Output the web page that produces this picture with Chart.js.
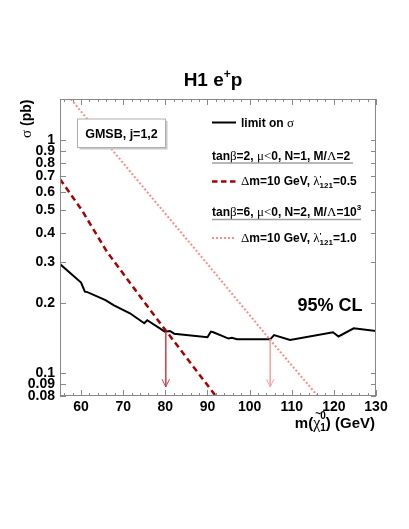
<!DOCTYPE html>
<html>
<head>
<meta charset="utf-8">
<script src="https://cdn.jsdelivr.net/npm/chart.js@4/dist/chart.umd.min.js"></script>
<style>
  html, body { margin: 0; padding: 0; background: #fff; }
  canvas { display: block; }
</style>
</head>
<body>
<canvas id="plot" width="409" height="529"></canvas>
<script>
// x axis: neutralino mass (GeV), y axis: cross section (pb)
const xTicks = [60, 70, 80, 90, 100, 110, 120, 130];
const yTicks = [0.08, 0.09, 0.1, 0.2, 0.3, 0.4, 0.5, 0.6, 0.7, 0.8, 0.9, 1];

// observed 95% CL limit on sigma
const limitMass = [55, 60.0, 60.9, 61.5, 65.8, 67.7, 71.6, 75.0, 75.7, 79.9, 81.1, 82.1, 90.0, 90.8, 91.4, 95.0, 95.8, 97.0, 104.9, 105.8, 109.6, 119.8, 121.1, 124.7, 130];
const limitSigma = [0.294, 0.245, 0.224, 0.223, 0.206, 0.196, 0.181, 0.164, 0.169, 0.151, 0.152, 0.148, 0.143, 0.151, 0.150, 0.141, 0.142, 0.140, 0.140, 0.146, 0.139, 0.150, 0.144, 0.156, 0.152];

// tanb=2, lambda'121=0.5 prediction
const modelAMass = [55, 60.15, 66.1, 76.4, 91.8];
const modelASigma = [0.68, 0.502, 0.333, 0.187, 0.0807];

// tanb=6, lambda'121=1.0 prediction
const modelBMass = [57.6, 67.7, 77.6, 87.9, 104.9, 116.0];
const modelBSigma = [1.5, 0.894, 0.545, 0.327, 0.139, 0.0807];

// excluded mass arrows
const arrowAMass = [80.1, 80.1];
const arrowASigma = [0.152, 0.0876];
const arrowAHeadMass = [79.2, 80.1, 81.0];
const arrowAHeadSigma = [0.0945, 0.0876, 0.0945];
const arrowBMass = [104.9, 104.9];
const arrowBSigma = [0.140, 0.0876];
const arrowBHeadMass = [104.0, 104.9, 105.8];
const arrowBHeadSigma = [0.0945, 0.0876, 0.0945];

const sans = '"Liberation Sans", Arial, sans-serif';
const serif = '"Liberation Serif", "DejaVu Serif", serif';
const darkRed = '#a80000';
const pink = '#ff8a8a';

function points(xs, ys) {
    return xs.map((x, i) => ({ x: x, y: ys[i] }));
}

function lineSet(xs, ys, color, width, dash) {
    return {
        data: points(xs, ys),
        borderColor: color,
        borderWidth: width,
        borderDash: dash || [],
        pointRadius: 0,
        tension: 0,
        fill: false
    };
}

function drawRuns(ctx, x, y, runs, align) {
    let total = 0;
    runs.forEach((r) => {
        ctx.font = r.font;
        r.w = ctx.measureText(r.text).width;
        if (!r.stack) total += r.w;
    });
    let cx = align === 'right' ? x - total : align === 'center' ? x - total / 2 : x;
    ctx.textAlign = 'left';
    ctx.textBaseline = 'alphabetic';
    runs.forEach((r) => {
        ctx.font = r.font;
        ctx.fillText(r.text, cx + (r.dx || 0), y + (r.dy || 0));
        if (!r.stack) cx += r.w;
    });
}

const B12 = 'bold 12px ' + sans;
const G13 = '13px ' + serif;
const S8 = 'bold 8px ' + sans;

const decor = {
    id: 'decor',
    afterDraw(chart) {
        const ctx = chart.ctx;
        const area = chart.chartArea;
        const xs = chart.scales.x;
        const ys = chart.scales.y;
        ctx.save();

        // frame
        ctx.strokeStyle = '#888';
        ctx.lineWidth = 1;
        ctx.strokeRect(area.left + 0.5, area.top + 0.5, area.right - area.left - 1, area.bottom - area.top - 1);

        // inward ticks on all sides
        ctx.beginPath();
        for (let v = 56; v <= 130; v += 2) {
            const px = Math.round(xs.getPixelForValue(v)) + 0.5;
            const len = v % 10 === 0 ? 6 : 3;
            ctx.moveTo(px, area.bottom);
            ctx.lineTo(px, area.bottom - len);
            ctx.moveTo(px, area.top);
            ctx.lineTo(px, area.top + len);
        }
        yTicks.forEach((v) => {
            const py = Math.round(ys.getPixelForValue(v)) + 0.5;
            ctx.moveTo(area.left, py);
            ctx.lineTo(area.left + 6, py);
            ctx.moveTo(area.right, py);
            ctx.lineTo(area.right - 5, py);
        });
        ctx.stroke();

        ctx.fillStyle = '#000';

        // title
        drawRuns(ctx, 213, 86, [
            { text: 'H1 e', font: 'bold 19px ' + sans },
            { text: '+', font: 'bold 12px ' + sans, dy: -8 },
            { text: 'p', font: 'bold 19px ' + sans }
        ], 'center');

        // y title
        ctx.save();
        ctx.translate(31, 99.5);
        ctx.rotate(-Math.PI / 2);
        drawRuns(ctx, 0, 0, [
            { text: 'σ', font: '15px ' + serif },
            { text: ' (pb)', font: 'bold 14px ' + sans }
        ], 'right');
        ctx.restore();

        // x title
        drawRuns(ctx, 375, 428, [
            { text: 'm(', font: 'bold 15px ' + sans },
            { text: '~', font: 'bold 10px ' + sans, dx: 2, dy: -11, stack: true },
            { text: 'χ', font: '16px ' + serif },
            { text: '0', font: 'bold 10px ' + sans, dy: -9, stack: true },
            { text: '1', font: 'bold 10px ' + sans, dy: 3 },
            { text: ') (GeV)', font: 'bold 15px ' + sans }
        ], 'right');

        // GMSB box
        ctx.fillStyle = '#c8c8c8';
        ctx.fillRect(79.5, 121, 88, 28.5);
        ctx.fillStyle = '#fff';
        ctx.fillRect(77.5, 119, 88, 28.5);
        ctx.strokeStyle = '#b0b0b0';
        ctx.strokeRect(77.5, 119, 88, 28.5);
        ctx.fillStyle = '#000';
        drawRuns(ctx, 121.5, 137.8, [{ text: 'GMSB, j=1,2', font: 'bold 12.5px ' + sans }], 'center');

        // legend
        ctx.lineWidth = 2;
        ctx.strokeStyle = '#000';
        ctx.beginPath();
        ctx.moveTo(212, 122.5);
        ctx.lineTo(236, 122.5);
        ctx.stroke();
        drawRuns(ctx, 241, 127, [
            { text: 'limit on ', font: B12 },
            { text: 'σ', font: G13 }
        ]);

        drawRuns(ctx, 212, 159.5, [
            { text: 'tan', font: B12 }, { text: 'β', font: G13 },
            { text: '=2, ', font: B12 }, { text: 'μ', font: G13 },
            { text: '<', font: G13 }, { text: '0, N=1, M/', font: B12 },
            { text: 'Λ', font: G13 }, { text: '=2', font: B12 }
        ]);
        ctx.strokeStyle = '#a0a0a0';
        ctx.lineWidth = 1.5;
        ctx.beginPath();
        ctx.moveTo(212, 163);
        ctx.lineTo(353, 163);
        ctx.stroke();

        ctx.strokeStyle = darkRed;
        ctx.lineWidth = 2.5;
        ctx.setLineDash([5.5, 3.5]);
        ctx.beginPath();
        ctx.moveTo(212, 181.5);
        ctx.lineTo(236, 181.5);
        ctx.stroke();
        ctx.setLineDash([]);
        drawRuns(ctx, 241, 185, [
            { text: 'Δ', font: G13 }, { text: 'm=10 GeV, ', font: B12 },
            { text: 'λ', font: G13 }, { text: '\'', font: S8, dy: -4, stack: true },
            { text: '121', font: S8, dy: 3 }, { text: '=0.5', font: B12 }
        ]);

        drawRuns(ctx, 212, 215.5, [
            { text: 'tan', font: B12 }, { text: 'β', font: G13 },
            { text: '=6, ', font: B12 }, { text: 'μ', font: G13 },
            { text: '<', font: G13 }, { text: '0, N=2, M/', font: B12 },
            { text: 'Λ', font: G13 }, { text: '=10', font: B12 },
            { text: '3', font: S8, dy: -6 }
        ]);
        ctx.strokeStyle = '#a0a0a0';
        ctx.lineWidth = 1.5;
        ctx.beginPath();
        ctx.moveTo(212, 219.5);
        ctx.lineTo(361, 219.5);
        ctx.stroke();

        ctx.strokeStyle = pink;
        ctx.lineWidth = 2;
        ctx.setLineDash([2, 2]);
        ctx.beginPath();
        ctx.moveTo(212, 238);
        ctx.lineTo(236, 238);
        ctx.stroke();
        ctx.setLineDash([]);
        drawRuns(ctx, 241, 241.5, [
            { text: 'Δ', font: G13 }, { text: 'm=10 GeV, ', font: B12 },
            { text: 'λ', font: G13 }, { text: '\'', font: S8, dy: -4, stack: true },
            { text: '121', font: S8, dy: 3 }, { text: '=1.0', font: B12 }
        ]);

        // confidence level
        drawRuns(ctx, 297.5, 311, [{ text: '95% CL', font: 'bold 18px ' + sans }]);

        ctx.restore();
    }
};

const tickFont = { family: sans, size: 14, weight: 'bold' };

new Chart(document.getElementById('plot'), {
    type: 'line',
    data: {
        datasets: [
            lineSet(modelBMass, modelBSigma, pink, 2, [2, 2]),
            lineSet(modelAMass, modelASigma, darkRed, 2.5, [6, 4]),
            lineSet(arrowAMass, arrowASigma, '#cc4455', 1),
            lineSet(arrowAHeadMass, arrowAHeadSigma, '#cc4455', 1),
            lineSet(arrowBMass, arrowBSigma, '#ffa0a0', 1),
            lineSet(arrowBHeadMass, arrowBHeadSigma, '#ffa0a0', 1),
            lineSet(limitMass, limitSigma, '#000', 2)
        ]
    },
    options: {
        responsive: false,
        animation: false,
        devicePixelRatio: 1,
        layout: { padding: { top: 99, right: 33, left: 0, bottom: 0 } },
        plugins: {
            legend: { display: false },
            tooltip: { enabled: false },
            title: { display: false }
        },
        scales: {
            x: {
                type: 'linear',
                min: 55,
                max: 130,
                afterBuildTicks: (scale) => {
                    scale.ticks = xTicks.map((v) => ({ value: v }));
                },
                afterFit: (scale) => {
                    scale.height = 133;
                },
                grid: { display: false, drawTicks: false },
                border: { display: false },
                ticks: {
                    font: tickFont,
                    color: '#000',
                    padding: 3,
                    maxRotation: 0,
                    autoSkip: false
                }
            },
            y: {
                type: 'logarithmic',
                min: 0.08,
                max: 1.5,
                afterBuildTicks: (scale) => {
                    scale.ticks = yTicks.map((v) => ({ value: v }));
                },
                afterFit: (scale) => {
                    scale.width = 60;
                },
                grid: { display: false, drawTicks: false },
                border: { display: false },
                ticks: {
                    font: tickFont,
                    color: '#000',
                    padding: 5,
                    autoSkip: false,
                    callback: (value) => String(value)
                }
            }
        }
    },
    plugins: [decor]
});
</script>
</body>
</html>
